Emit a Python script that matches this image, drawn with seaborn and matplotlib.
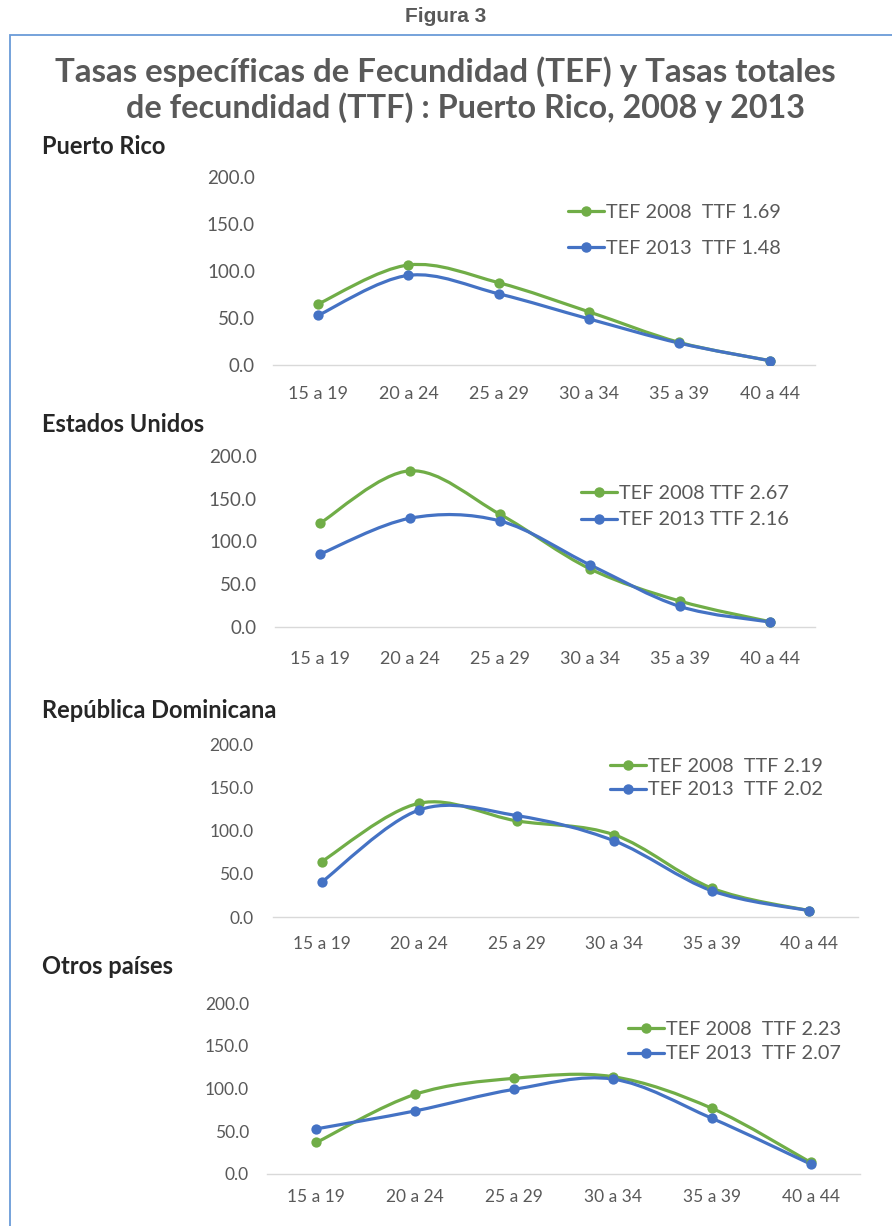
import numpy as np
import matplotlib
matplotlib.use("Agg")
import matplotlib.pyplot as plt
import seaborn as sns
from matplotlib.path import Path
from matplotlib.patches import PathPatch, Rectangle
from matplotlib.lines import Line2D
from matplotlib.ticker import FormatStrFormatter

# data
ages = ["15 a 19", "20 a 24", "25 a 29", "30 a 34", "35 a 39", "40 a 44"]

pr_2008 = [65.0, 106.4, 87.5, 56.5, 24.0, 4.6]
pr_2013 = [52.9, 95.4, 75.7, 49.0, 23.2, 4.6]
eu_2008 = [121.4, 182.7, 131.8, 68.0, 30.3, 6.2]
eu_2013 = [85.2, 127.2, 124.0, 72.7, 24.0, 5.8]
rd_2008 = [64.5, 132.3, 111.8, 95.5, 33.6, 7.3]
rd_2013 = [40.6, 124.5, 117.9, 88.5, 30.5, 7.3]
ot_2008 = [36.9, 93.2, 111.9, 113.8, 76.9, 13.6]
ot_2013 = [52.8, 73.8, 99.0, 111.0, 65.2, 11.6]

panel_names = ["Puerto Rico", "Estados Unidos", "República Dominicana", "Otros países"]
labels_2008 = ["TEF 2008  TTF 1.69", "TEF 2008 TTF 2.67", "TEF 2008  TTF 2.19", "TEF 2008  TTF 2.23"]
labels_2013 = ["TEF 2013  TTF 1.48", "TEF 2013 TTF 2.16", "TEF 2013  TTF 2.02", "TEF 2013  TTF 2.07"]
yticks = [0, 50, 100, 150, 200]

GREEN = "#70AD47"
BLUE = "#4472C4"
GREY = "#595959"

W, H = 892, 1226
sns.set_theme(style="white")
plt.rcParams["font.family"] = ["Lato", "DejaVu Sans"]

fig = plt.figure(figsize=(W / 100, H / 100), dpi=100)


def fx(px):
    return px / W


def fy(py):
    return 1 - py / H


def smooth_curve(ax, xs, ys, color):
    # excel style smoothed line: bezier segments through the points
    pts = np.column_stack([xs, ys]).astype(float)
    n = len(pts)
    verts = [pts[0]]
    codes = [Path.MOVETO]
    for i in range(n - 1):
        p0 = pts[max(i - 1, 0)]
        p1 = pts[i]
        p2 = pts[i + 1]
        p3 = pts[min(i + 2, n - 1)]
        verts += [p1 + (p2 - p0) / 6, p2 - (p3 - p1) / 6, p2]
        codes += [Path.CURVE4] * 3
    ax.add_patch(PathPatch(Path(verts, codes), fill=False, edgecolor=color,
                           lw=2.3, capstyle="round", joinstyle="round", zorder=3))


# (left, right, top, bottom) in pixels, title y, legend anchor, label spacing, font sizes
panels = [
    dict(box=(273, 815, 177, 365), title_y=147, leg=(568, 230.5), lsp=1.0, xt=13, yt=13.5, ypad=13, xpad=15),
    dict(box=(275, 815, 456, 627), title_y=424, leg=(581, 506.5), lsp=0.5, xt=13, yt=13.5, ypad=13, xpad=17),
    dict(box=(273, 858, 745, 917), title_y=711, leg=(610, 778), lsp=0.35, xt=12.5, yt=12.5, ypad=14, xpad=14),
    dict(box=(267, 860, 1003, 1174), title_y=966, leg=(628, 1041.5), lsp=0.4, xt=12.5, yt=12.5, ypad=13, xpad=11),
]
series = [(pr_2008, pr_2013), (eu_2008, eu_2013), (rd_2008, rd_2013), (ot_2008, ot_2013)]

pos = np.arange(len(ages))

for k, p in enumerate(panels):
    l, r, t, b = p["box"]
    ax = fig.add_axes([fx(l), fy(b), fx(r - l), (b - t) / H])
    s08, s13 = series[k]
    for vals, c in [(s08, GREEN), (s13, BLUE)]:
        smooth_curve(ax, pos, vals, c)
        sns.scatterplot(x=pos, y=vals, ax=ax, color=c, s=55, edgecolor=c, linewidth=0, zorder=4)
    ax.set_xlim(-0.5, len(ages) - 0.5)
    ax.set_ylim(0, 200)
    ax.set_xticks(pos)
    ax.set_xticklabels(ages)
    ax.set_yticks(yticks)
    ax.yaxis.set_major_formatter(FormatStrFormatter("%.1f"))
    ax.tick_params(axis="y", length=0, pad=p["ypad"], labelsize=p["yt"], labelcolor=GREY)
    ax.tick_params(axis="x", length=0, pad=p["xpad"], labelsize=p["xt"], labelcolor=GREY)
    for side in ["top", "right", "left"]:
        ax.spines[side].set_visible(False)
    ax.spines["bottom"].set_color("#D9D9D9")
    ax.spines["bottom"].set_linewidth(1.0)
    ax.set_xlabel("")
    ax.set_ylabel("")
    ax.set_facecolor("none")

    handles = [Line2D([], [], color=GREEN, lw=2.3, marker="o", markersize=6.5),
               Line2D([], [], color=BLUE, lw=2.3, marker="o", markersize=6.5)]
    lx, ly = p["leg"]
    fig.legend(handles, [labels_2008[k], labels_2013[k]], loc="center left",
               bbox_to_anchor=(fx(lx), fy(ly)), frameon=False, fontsize=14.3,
               handlelength=1.8, handletextpad=0.1, labelspacing=p["lsp"],
               borderpad=0, borderaxespad=0, labelcolor=GREY)

    fig.text(fx(42), fy(p["title_y"]), panel_names[k], fontsize=17, fontweight="bold",
             color="#262626", ha="left", va="center")

fig.text(fx(446), fy(16), "Figura 3", fontsize=15, fontweight="bold", color=GREY,
         ha="center", va="center", family=["Liberation Sans", "DejaVu Sans"])
fig.text(fx(445), fy(72), "Tasas específicas de Fecundidad (TEF) y Tasas totales",
         fontsize=23.8, fontweight="bold", color=GREY, ha="center", va="center")
fig.text(fx(465), fy(108), "de fecundidad (TTF) : Puerto Rico, 2008 y 2013",
         fontsize=23.3, fontweight="bold", color=GREY, ha="center", va="center")

# blue frame around the chart
fig.patches.append(Rectangle((fx(10), -0.05), 1.0, fy(35) + 0.05, transform=fig.transFigure,
                             fill=False, edgecolor="#6A9BD8", lw=1.3))

fig.savefig("out.png", dpi=100)
